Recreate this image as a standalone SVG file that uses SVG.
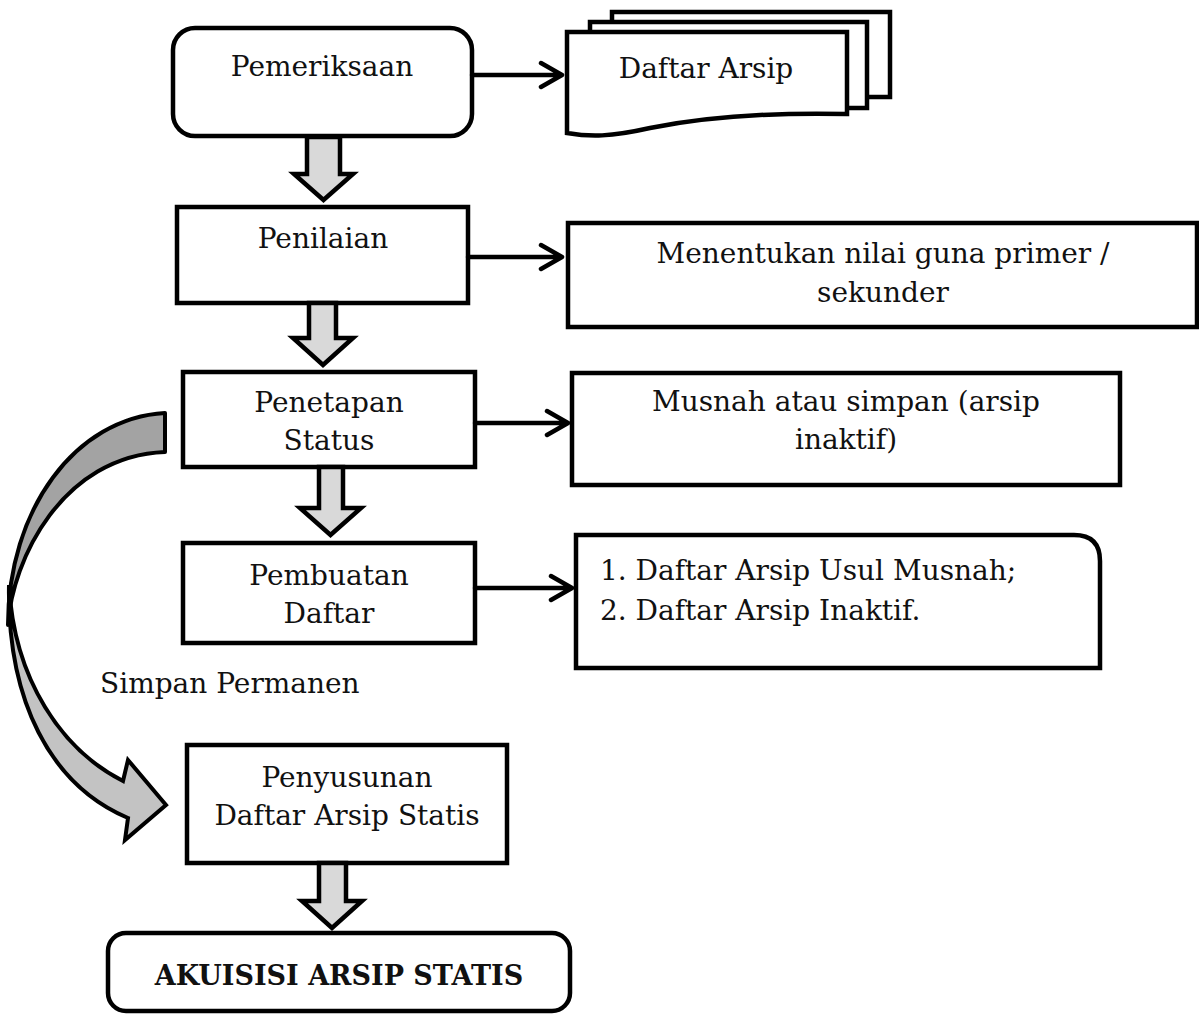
<svg xmlns="http://www.w3.org/2000/svg" width="1199" height="1014" viewBox="0 0 1199 1014">
  <style>
    .box { fill: #ffffff; stroke: #000000; stroke-width: 4.5; }
    .txt { font-family: "DejaVu Serif", "Liberation Serif", serif; font-size: 28px; fill: #111111; }
    .mid { text-anchor: middle; }
    .bold { font-weight: bold; font-size: 27px; }
    .down { fill: #d9d9d9; stroke: #000000; stroke-width: 4.5; stroke-linejoin: miter; }
    .link { fill: none; stroke: #000000; stroke-width: 4.5; stroke-linecap: round; stroke-linejoin: round; }
  </style>

  <!-- Nodes -->
  <g id="pemeriksaan">
    <rect class="box" x="173" y="28" width="299" height="108" rx="22" ry="22"/>
    <text class="txt mid" x="322" y="76">Pemeriksaan</text>
  </g>

  <g id="daftar-arsip">
    <rect class="box" x="612" y="12" width="278" height="85"/>
    <rect class="box" x="590" y="22" width="277" height="86"/>
    <path class="box" d="M567,32 L847,32 L847,114 C 760,112 700,118 650,128 C 610,137 590,137 567,133 Z"/>
    <text class="txt mid" x="706" y="78">Daftar Arsip</text>
  </g>

  <g id="penilaian">
    <rect class="box" x="177" y="207" width="291" height="96"/>
    <text class="txt mid" x="323" y="248">Penilaian</text>
  </g>

  <g id="nilai-guna">
    <rect class="box" x="568" y="223" width="629" height="104"/>
    <text class="txt mid" x="883" y="263">Menentukan nilai guna primer /</text>
    <text class="txt mid" x="883" y="302">sekunder</text>
  </g>

  <g id="penetapan-status">
    <rect class="box" x="183" y="372" width="292" height="95"/>
    <text class="txt mid" x="329" y="412">Penetapan</text>
    <text class="txt mid" x="329" y="450">Status</text>
  </g>

  <g id="musnah-simpan">
    <rect class="box" x="572" y="373" width="548" height="112"/>
    <text class="txt mid" x="846" y="411">Musnah atau simpan (arsip</text>
    <text class="txt mid" x="846" y="449">inaktif)</text>
  </g>

  <g id="pembuatan-daftar">
    <rect class="box" x="183" y="543" width="292" height="100"/>
    <text class="txt mid" x="329" y="585">Pembuatan</text>
    <text class="txt mid" x="329" y="623">Daftar</text>
  </g>

  <g id="daftar-list">
    <path class="box" d="M576,535 L1074,535 Q1100,535 1100,561 L1100,668 L576,668 Z"/>
    <text class="txt" x="600" y="580">1. Daftar Arsip Usul Musnah;</text>
    <text class="txt" x="600" y="620">2. Daftar Arsip Inaktif.</text>
  </g>

  <g id="penyusunan">
    <rect class="box" x="187" y="745" width="320" height="118"/>
    <text class="txt mid" x="347" y="787">Penyusunan</text>
    <text class="txt mid" x="347" y="825">Daftar Arsip Statis</text>
  </g>

  <g id="akuisisi">
    <rect class="box" x="108" y="933" width="462" height="78" rx="18" ry="18"/>
    <text class="txt mid bold" x="339" y="985">AKUISISI ARSIP STATIS</text>
  </g>

  <!-- Connectors -->
  <g id="connectors">
    <!-- block arrows down the main column -->
    <path class="down" d="M307,137 L340,137 L340,174 L353,174 L323.5,200 L294,174 L307,174 Z"/>
    <path class="down" d="M309,303 L336,303 L336,338 L353,338 L323,365 L293,338 L309,338 Z"/>
    <path class="down" d="M319,467 L343,467 L343,508 L361,508 L330.5,535 L300,508 L319,508 Z"/>
    <path class="down" d="M319,863 L346,863 L346,901 L362,901 L332,928 L302,901 L319,901 Z"/>

    <!-- side arrows -->
    <path class="link" d="M472,75 L562,75 M541,63 L562,75 L541,87"/>
    <path class="link" d="M468,257 L562,257 M541,245 L562,257 L541,269"/>
    <path class="link" d="M475,423 L568,423 M547,411 L568,423 L547,435"/>
    <path class="link" d="M475,588 L572,588 M551,576 L572,588 L551,600"/>

    <!-- curved arrow: Simpan Permanen -->
    <path d="M165,413 C 75,418 8,510 8,625 C 12,560 62,456 165,452 Z" fill="#a3a3a3" stroke="#000" stroke-width="4" stroke-linejoin="round"/>
    <path d="M9,585 C 7,700 50,785 128,818 L125,840 L166,805 L128,760 L123,781 C 62,750 14,680 9,585 Z" fill="#c3c3c3" stroke="#000" stroke-width="4" stroke-linejoin="miter"/>
  </g>

  <text class="txt" x="100" y="693">Simpan Permanen</text>
</svg>
